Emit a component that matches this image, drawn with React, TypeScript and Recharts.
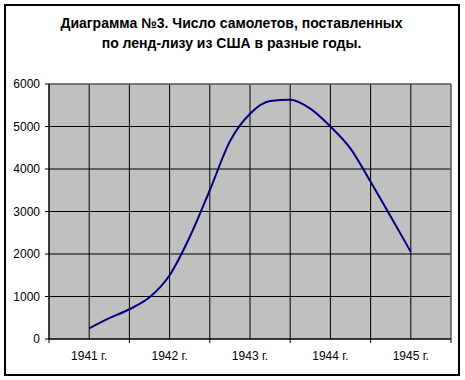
import { LineChart, Line, XAxis, YAxis, CartesianGrid, ReferenceLine } from 'recharts';

// квартальные точки: 1 = 1941 г., 5 = 1945 г.
const periods = [1, 1.25, 1.5, 1.75, 2, 2.25, 2.5, 2.75, 3, 3.25, 3.5, 3.75, 4, 4.25, 4.5, 4.75, 5];
const planes = [250, 490, 700, 980, 1500, 2400, 3500, 4650, 5300, 5600, 5630, 5420, 5000, 4480, 3700, 2880, 2050];
const yearLabels = ['1941 г.', '1942 г.', '1943 г.', '1944 г.', '1945 г.'];
const xTicks = [0.5, 1, 1.5, 2, 2.5, 3, 3.5, 4, 4.5, 5, 5.5];
const yTicks = [0, 1000, 2000, 3000, 4000, 5000, 6000];

const data = periods.map((p, i) => ({ p, v: planes[i] }));
const FONT = '"Liberation Sans", Arial, sans-serif';

function YearTick(props: any) {
  const { x, y, payload } = props;
  const val = payload.value as number;
  if (Number.isInteger(val)) {
    return (
      <text x={x} y={y + 21} textAnchor="middle" fontSize={12} fontFamily={FONT} fill="#000">
        {yearLabels[val - 1]}
      </text>
    );
  }
  // деления на границах лет
  return <line x1={x} y1={y} x2={x} y2={y + 4} stroke="#000" />;
}

export default function App() {
  return (
    <div style={{ position: 'absolute', left: 0, top: 0, width: 465, height: 380, background: '#fff', fontFamily: FONT }}>
      <div
        style={{
          position: 'absolute', left: 4, top: 4, width: 452, height: 368,
          border: '2px solid #000',
        }}
      />
      <div
        style={{
          position: 'absolute', left: 0, top: 13, width: 463, textAlign: 'center',
          fontSize: 14, fontWeight: 'bold', lineHeight: '20px', color: '#000',
        }}
      >
        Диаграмма №3. Число самолетов, поставленных
        <br />
        по ленд-лизу из США в разные годы.
      </div>
      <div style={{ position: 'absolute', left: 0, top: 0 }}>
        <LineChart width={465} height={380} data={data} margin={{ top: 84, right: 14, bottom: 0, left: 0 }}>
          <CartesianGrid stroke="#000" fill="#c0c0c0" />
          <XAxis
            dataKey="p"
            type="number"
            domain={[0.5, 5.5]}
            ticks={xTicks}
            interval={0}
            height={41}
            tickSize={0}
            tickMargin={0}
            tickLine={false}
            axisLine={{ stroke: '#000' }}
            tick={<YearTick />}
          />
          <YAxis
            domain={[0, 6000]}
            ticks={yTicks}
            width={49}
            tickSize={4}
            tickMargin={5}
            interval={0}
            axisLine={{ stroke: '#000' }}
            tickLine={{ stroke: '#000' }}
            tick={{ fontSize: 12, fill: '#000', fontFamily: FONT }}
          />
          <ReferenceLine y={6000} stroke="#808080" />
          <ReferenceLine x={5.5} stroke="#808080" />
          <Line
            type="monotone"
            dataKey="v"
            stroke="#000080"
            strokeWidth={2}
            dot={false}
            isAnimationActive={false}
          />
        </LineChart>
      </div>
    </div>
  );
}
